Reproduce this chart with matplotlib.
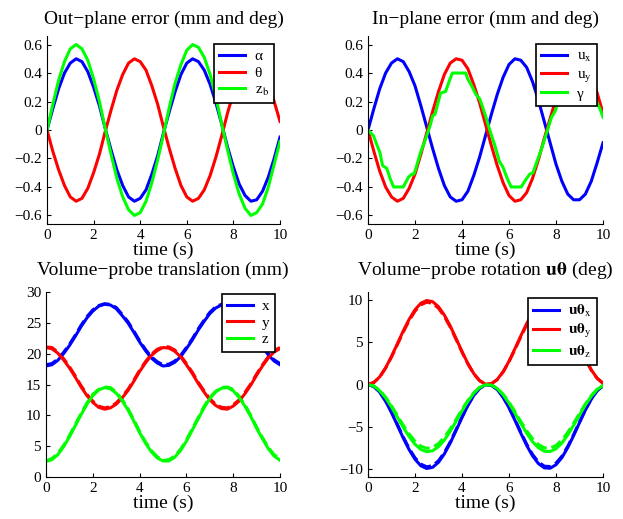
import matplotlib
matplotlib.use('Agg')
import matplotlib.pyplot as plt

plt.rcParams['font.family'] = ['Liberation Serif', 'DejaVu Serif']
plt.rcParams['mathtext.fontset'] = 'stix'

# ---------------- data ----------------
t = [0.0, 0.25, 0.5, 0.75, 1.0, 1.25, 1.5, 1.75, 2.0, 2.25, 2.5, 2.75, 3.0, 3.25, 3.5, 3.75,
     4.0, 4.25, 4.5, 4.75, 5.0, 5.25, 5.5, 5.75, 6.0, 6.25, 6.5, 6.75, 7.0, 7.25, 7.5, 7.75,
     8.0, 8.25, 8.5, 8.75, 9.0, 9.25, 9.5, 9.75, 10.0]

# Out-plane error
alpha = [0, 0.15, 0.29, 0.40, 0.47, 0.50, 0.48, 0.41, 0.30, 0.17, 0.01, -0.14, -0.28, -0.39,
         -0.47, -0.50, -0.48, -0.42, -0.31, -0.18, -0.02, 0.13, 0.27, 0.39, 0.47, 0.50, 0.48,
         0.42, 0.32, 0.19, 0.04, -0.12, -0.26, -0.38, -0.46, -0.50, -0.49, -0.43, -0.33, -0.20, -0.05]
theta = [0, -0.15, -0.28, -0.39, -0.47, -0.50, -0.48, -0.41, -0.30, -0.17, -0.01, 0.14, 0.28, 0.39,
         0.47, 0.50, 0.48, 0.42, 0.31, 0.18, 0.02, -0.13, -0.27, -0.39, -0.47, -0.50, -0.48,
         -0.42, -0.32, -0.19, -0.04, 0.12, 0.26, 0.38, 0.46, 0.50, 0.49, 0.43, 0.33, 0.20, 0.06]
z_b = [0, 0.18, 0.35, 0.48, 0.57, 0.60, 0.57, 0.49, 0.36, 0.20, 0.01, -0.17, -0.34, -0.47, -0.56,
       -0.60, -0.58, -0.50, -0.37, -0.21, -0.03, 0.16, 0.33, 0.46, 0.56, 0.60, 0.58, 0.51, 0.39,
       0.23, 0.04, -0.14, -0.31, -0.45, -0.55, -0.60, -0.58, -0.52, -0.40, -0.24, -0.08]

# In-plane error
u_x = [0, 0.15, 0.29, 0.40, 0.47, 0.50, 0.48, 0.41, 0.31, 0.17, 0.02, -0.13, -0.27, -0.39, -0.47,
       -0.50, -0.49, -0.43, -0.32, -0.19, -0.04, 0.11, 0.25, 0.37, 0.46, 0.50, 0.49, 0.44, 0.34,
       0.21, 0.06, -0.09, -0.24, -0.36, -0.45, -0.49, -0.49, -0.45, -0.36, -0.23, -0.09]
u_y = [0, -0.15, -0.29, -0.40, -0.47, -0.50, -0.48, -0.41, -0.31, -0.17, -0.02, 0.13, 0.27, 0.39,
       0.47, 0.50, 0.49, 0.43, 0.32, 0.19, 0.04, -0.11, -0.25, -0.37, -0.46, -0.50, -0.49, -0.44,
       -0.34, -0.21, -0.06, 0.08, 0.22, 0.35, 0.44, 0.49, 0.50, 0.46, 0.38, 0.26, 0.12]
gamma_t = [0.0, 0.23, 0.37, 0.51, 0.62, 0.80, 0.94, 1.09, 1.50, 1.73, 1.87, 1.95, 2.02, 2.23, 2.37,
           2.52, 2.66, 2.75, 2.85, 3.09, 3.30, 3.45, 3.59, 4.16, 4.24, 4.38, 4.59, 4.75, 4.88, 5.02,
           5.16, 5.38, 5.59, 5.74, 5.95, 6.09, 6.52, 6.67, 6.88, 7.02, 7.17, 7.38, 7.60, 7.81, 7.96,
           8.20, 8.50, 8.65, 9.10, 9.30, 9.55, 9.87, 10.0]
gamma = [0, -0.04, -0.10, -0.16, -0.25, -0.27, -0.34, -0.40, -0.40, -0.33, -0.31, -0.31, -0.28,
         -0.16, -0.10, -0.03, 0.04, 0.10, 0.11, 0.26, 0.27, 0.34, 0.40, 0.40, 0.36, 0.32, 0.25, 0.22,
         0.16, 0.09, 0.01, -0.10, -0.22, -0.26, -0.35, -0.40, -0.40, -0.36, -0.31, -0.30, -0.23,
         -0.135, -0.02, 0.09, 0.13, 0.25, 0.36, 0.40, 0.40, 0.33, 0.25, 0.15, 0.09]

# Volume-probe translation (solid: measured, dashed: desired)
tr_x = [18.0, 18.2, 18.9, 20.0, 21.3, 22.8, 24.4, 25.8, 26.9, 27.7, 28.0, 27.9, 27.3, 26.2, 25.0,
        23.5, 21.9, 20.5, 19.3, 18.5, 18.0, 18.1, 18.6, 19.5, 20.8, 22.2, 23.8, 25.2, 26.5, 27.4,
        27.9, 28.0, 27.5, 26.7, 25.5, 24.1, 22.5, 21.1, 19.8, 18.8, 18.2]
tr_y = [21.0, 20.8, 20.1, 19.0, 17.7, 16.2, 14.6, 13.2, 12.1, 11.3, 11.0, 11.2, 11.8, 12.8, 14.0,
        15.5, 17.1, 18.5, 19.7, 20.5, 21.0, 20.9, 20.4, 19.5, 18.2, 16.8, 15.2, 13.8, 12.5, 11.6,
        11.1, 11.0, 11.5, 12.3, 13.5, 14.9, 16.5, 18.0, 19.3, 20.3, 20.8]
tr_z = [2.5, 2.8, 3.6, 4.9, 6.5, 8.3, 10.1, 11.8, 13.2, 14.1, 14.5, 14.3, 13.6, 12.4, 10.9, 9.1,
        7.2, 5.5, 4.1, 3.1, 2.6, 2.6, 3.2, 4.3, 5.8, 7.6, 9.4, 11.2, 12.7, 13.8, 14.4, 14.5, 14.0,
        12.9, 11.5, 9.8, 7.9, 6.2, 4.6, 3.4, 2.7]
tr_x_ref = [18.2, 18.4, 19.1, 20.2, 21.5, 23.0, 24.6, 26.0, 27.1, 27.8, 28.1, 28.0, 27.5, 26.4,
            25.2, 23.7, 22.1, 20.7, 19.5, 18.7, 18.2, 18.3, 18.8, 19.7, 21.0, 22.4, 24.0, 25.4,
            26.7, 27.6, 28.0, 28.1, 27.7, 26.9, 25.7, 24.3, 22.7, 21.3, 20.0, 19.0, 18.4]
tr_y_ref = [21.1, 21.0, 20.3, 19.2, 17.9, 16.4, 14.8, 13.4, 12.3, 11.5, 11.2, 11.4, 12.0, 13.0,
            14.2, 15.7, 17.3, 18.7, 19.9, 20.7, 21.1, 21.1, 20.6, 19.7, 18.4, 17.0, 15.4, 14.0,
            12.7, 11.8, 11.3, 11.2, 11.7, 12.5, 13.7, 15.1, 16.7, 18.2, 19.5, 20.5, 21.0]
tr_z_ref = [2.6, 3.0, 3.8, 5.1, 6.7, 8.5, 10.3, 12.0, 13.4, 14.2, 14.6, 14.5, 13.8, 12.6, 11.1,
            9.3, 7.4, 5.7, 4.3, 3.3, 2.7, 2.8, 3.4, 4.5, 6.0, 7.8, 9.6, 11.4, 12.9, 13.9, 14.5,
            14.6, 14.2, 13.1, 11.7, 10.0, 8.1, 6.4, 4.8, 3.6, 2.9]

# Volume-probe rotation u-theta (solid: measured, dashed: desired)
rot_x = [0, -0.24, -0.92, -1.99, -3.34, -4.85, -6.37, -7.75, -8.89, -9.67, -9.99, -9.85, -9.25,
         -8.25, -6.96, -5.46, -3.93, -2.50, -1.30, -0.46, -0.04, -0.09, -0.60, -1.52, -2.77,
         -4.24, -5.77, -7.23, -8.48, -9.40, -9.91, -9.96, -9.54, -8.70, -7.50, -6.07, -4.54,
         -3.05, -1.75, -0.75, -0.15]
rot_y = [0, 0.24, 0.92, 1.99, 3.34, 4.85, 6.37, 7.75, 8.89, 9.67, 9.99, 9.85, 9.25, 8.25, 6.96,
         5.46, 3.93, 2.50, 1.30, 0.46, 0.04, 0.09, 0.60, 1.52, 2.77, 4.24, 5.77, 7.23, 8.48, 9.40,
         9.91, 9.96, 9.54, 8.70, 7.50, 6.07, 4.54, 3.05, 1.75, 0.75, 0.15]
rot_z = [0, -0.19, -0.74, -1.59, -2.67, -3.88, -5.10, -6.20, -7.11, -7.73, -7.99, -7.88, -7.40,
         -6.60, -5.57, -4.37, -3.14, -2.00, -1.04, -0.37, -0.03, -0.07, -0.48, -1.22, -2.21,
         -3.39, -4.62, -5.78, -6.79, -7.52, -7.93, -7.97, -7.64, -6.96, -6.00, -4.85, -3.63,
         -2.44, -1.40, -0.60, -0.12]
rot_x_ref = [0, -0.24, -0.90, -1.95, -3.27, -4.75, -6.24, -7.60, -8.72, -9.47, -9.79, -9.65,
             -9.07, -8.08, -6.82, -5.35, -3.85, -2.45, -1.27, -0.45, -0.04, -0.08, -0.58, -1.49,
             -2.71, -4.15, -5.65, -7.08, -8.31, -9.21, -9.71, -9.76, -9.35, -8.53, -7.35, -5.95,
             -4.45, -2.99, -1.71, -0.73, -0.15]
rot_y_ref = [0, 0.24, 0.90, 1.95, 3.27, 4.75, 6.24, 7.60, 8.72, 9.47, 9.79, 9.65, 9.07, 8.08,
             6.82, 5.35, 3.85, 2.45, 1.27, 0.45, 0.04, 0.08, 0.58, 1.49, 2.71, 4.15, 5.65, 7.08,
             8.31, 9.21, 9.71, 9.76, 9.35, 8.53, 7.35, 5.95, 4.45, 2.99, 1.71, 0.73, 0.15]
rot_z_ref = [0, -0.18, -0.70, -1.51, -2.54, -3.69, -4.85, -5.89, -6.75, -7.34, -7.59, -7.49,
             -7.03, -6.27, -5.29, -4.15, -2.98, -1.90, -0.99, -0.35, -0.03, -0.07, -0.46, -1.16,
             -2.10, -3.22, -4.39, -5.49, -6.45, -7.14, -7.53, -7.57, -7.26, -6.61, -5.70, -4.61,
             -3.45, -2.32, -1.33, -0.57, -0.11]

titles = ['Out\u2212plane error (mm and deg)', 'In\u2212plane error (mm and deg)',
          'Volume\u2212probe translation (mm)', 'Volume\u2212probe rotation $\\mathbf{u\\theta}$ (deg)']
xlabel = 'time (s)'
xticks = [0, 2, 4, 6, 8, 10]
err_ticks = [-0.6, -0.4, -0.2, 0, 0.2, 0.4, 0.6]
err_ticklabels = ['\u22120.6', '\u22120.4', '\u22120.2', '0', '0.2', '0.4', '0.6']
tr_ticks = [0, 5, 10, 15, 20, 25, 30]
rot_ticks = [-10, -5, 0, 5, 10]
rot_ticklabels = ['\u221210', '\u22125', '0', '5', '10']

BLUE, RED, GREEN = (0, 0, 1), (1, 0, 0), (0, 1, 0)
LW = 2.2

W, H = 623, 519
fig = plt.figure(figsize=(W / 100, H / 100), dpi=100)


def add_ax(x0, y0, x1, y1):
    return fig.add_axes([x0 / W, 1 - y1 / H, (x1 - x0) / W, (y1 - y0) / H])


def style(ax, title, title_pad):
    for s in ('top', 'right'):
        ax.spines[s].set_visible(False)
    for s in ('left', 'bottom'):
        ax.spines[s].set_linewidth(0.8)
    ax.tick_params(direction='in', length=3, width=0.8, labelsize=11, pad=3.5)
    ax.set_xlim(0, 10)
    ax.set_xticks(xticks)
    ax.set_xlabel(xlabel, fontsize=14, labelpad=0)
    ax.set_title(title, fontsize=14, pad=title_pad)


def legend(ax, anchor):
    lg = ax.legend(loc='upper right', bbox_to_anchor=anchor, borderaxespad=0, fontsize=11,
                   frameon=True, fancybox=False, framealpha=1, edgecolor='black',
                   handlelength=1.7, handletextpad=0.6, labelspacing=0.2, borderpad=0.35)
    lg.get_frame().set_linewidth(1.2)


# Top-left
ax1 = add_ax(47, 36, 280, 224)
ax1.plot(t, alpha, color=BLUE, lw=LW, label='\u03b1')
ax1.plot(t, theta, color=RED, lw=LW, label='\u03b8')
ax1.plot(t, z_b, color=GREEN, lw=LW, label='z$_\\mathrm{b}$')
ax1.set_ylim(-0.66, 0.66)
ax1.set_yticks(err_ticks)
ax1.set_yticklabels(err_ticklabels)
style(ax1, titles[0], 9)
legend(ax1, (0.974, 0.957))

# Top-right
ax2 = add_ax(368, 36, 603, 224)
ax2.plot(t, u_x, color=BLUE, lw=LW, label='u$_\\mathrm{x}$')
ax2.plot(t, u_y, color=RED, lw=LW, label='u$_\\mathrm{y}$')
ax2.plot(gamma_t, gamma, color=GREEN, lw=LW, label='\u03b3')
ax2.set_ylim(-0.66, 0.66)
ax2.set_yticks(err_ticks)
ax2.set_yticklabels(err_ticklabels)
style(ax2, titles[1], 9)
legend(ax2, (0.974, 0.957))

# Bottom-left
ax3 = add_ax(46, 292, 280, 477)
ax3.plot(t, tr_x_ref, color=BLUE, lw=LW, ls='--')
ax3.plot(t, tr_y_ref, color=RED, lw=LW, ls='--')
ax3.plot(t, tr_z_ref, color=GREEN, lw=LW, ls='--')
ax3.plot(t, tr_x, color=BLUE, lw=LW, label='x')
ax3.plot(t, tr_y, color=RED, lw=LW, label='y')
ax3.plot(t, tr_z, color=GREEN, lw=LW, label='z')
ax3.set_ylim(0, 30)
ax3.set_yticks(tr_ticks)
style(ax3, titles[2], 12)
legend(ax3, (0.979, 0.99))

# Bottom-right
ax4 = add_ax(368, 292, 603, 477)
ax4.plot(t, rot_x_ref, color=BLUE, lw=LW, ls='--')
ax4.plot(t, rot_y_ref, color=RED, lw=LW, ls='--')
ax4.plot(t, rot_z_ref, color=GREEN, lw=LW, ls='--')
ax4.plot(t, rot_x, color=BLUE, lw=LW, label='$\\mathbf{u\\theta}_\\mathrm{x}$')
ax4.plot(t, rot_y, color=RED, lw=LW, label='$\\mathbf{u\\theta}_\\mathrm{y}$')
ax4.plot(t, rot_z, color=GREEN, lw=LW, label='$\\mathbf{u\\theta}_\\mathrm{z}$')
ax4.set_ylim(-11, 11)
ax4.set_yticks(rot_ticks)
ax4.set_yticklabels(rot_ticklabels)
style(ax4, titles[3], 12)
legend(ax4, (0.974, 0.968))

fig.savefig('out.png', dpi=100)
